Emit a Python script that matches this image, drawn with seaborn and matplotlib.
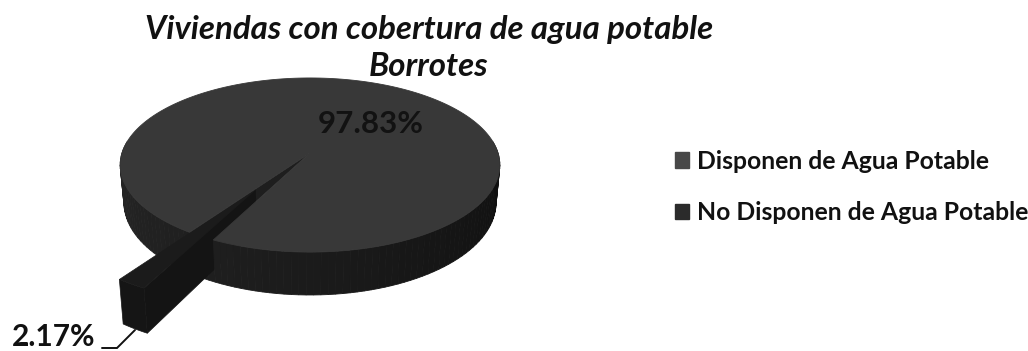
import numpy as np
import matplotlib
matplotlib.use("Agg")
import matplotlib.pyplot as plt
from matplotlib.patches import Patch, Polygon
import seaborn as sns

title_lines = ["Viviendas con cobertura de agua potable", "Borrotes"]
categories = ["Disponen de Agua Potable", "No Disponen de Agua Potable"]
shares = [97.83, 2.17]
share_labels = ["97.83%", "2.17%"]

sns.set_theme(style="white")
plt.rcParams["font.family"] = ["Lato", "DejaVu Sans"]

TOP_COLOR = "#383838"
LEGEND_COLORS = ["#484848", "#2b2b2b"]
WEDGE_TOP = "#1b1b1b"
WALL_COLOR = "#141414"

# Tilted-disc projection, working in pixel-sized axis units
CX, CY, RX, RY, PERSP, DEPTH = 310.0, 153.0, 188.0, 85.4, 0.138, 37.0
MID_ANGLE = 239.3
EXPLODE = 0.49
EXPLODE_ANGLE = 236.0


def project(u, v, depth=0.0):
    w = 1 + PERSP * v
    taper = 1 - 0.02 * (depth > 0)
    return CX + taper * RX * u / w, CY - RY * v / w + depth / w


def rim(angle_deg, offset=(0.0, 0.0), depth=0.0):
    a = np.radians(angle_deg)
    return project(np.cos(a) + offset[0], np.sin(a) + offset[1], depth)


def side_shade(angle_deg):
    # Wall brightness falls from the left of the disc to the right
    t = np.clip((angle_deg - 180) / 180, 0, 1)
    g = 0.15 - 0.09 * t
    return (g, g, g)


def wall_strips(lo, hi, z):
    edges = np.linspace(lo, hi, int((hi - lo) / 2) + 2)
    for a0, a1 in zip(edges[:-1], edges[1:]):
        quad = [rim(a0), rim(a1), rim(a1, depth=DEPTH), rim(a0, depth=DEPTH)]
        c = side_shade((a0 + a1) / 2)
        ax.add_patch(Polygon(quad, closed=True, fc=c, ec=c, lw=0.6, zorder=z))


half_span = 360 * shares[1] / sum(shares) / 2
notch_lo, notch_hi = MID_ANGLE - half_span, MID_ANGLE + half_span

fig, ax = plt.subplots(figsize=(10.28, 3.51), dpi=100)
fig.subplots_adjust(0, 0, 1, 1)
ax.set_xlim(0, 1028)
ax.set_ylim(351, 0)
ax.axis("off")

# Outer wall running behind the pulled-out slice
wall_strips(172.0, notch_hi, 2)

# Inner wall seen through the gap
apex = project(0, 0)
ax.add_patch(Polygon([apex, rim(notch_lo), rim(notch_hi)],
                     closed=True, fc="#1e1e1e", ec="#1e1e1e", lw=0.5, zorder=3))

# Pulled-out slice: walls first, then its top face
m = np.radians(EXPLODE_ANGLE)
off = (EXPLODE * np.cos(m), EXPLODE * np.sin(m))
tip = project(off[0], off[1])
tip_low = project(off[0], off[1], DEPTH)
arc = np.linspace(notch_lo, notch_hi, 8)
ax.add_patch(Polygon([tip, rim(notch_hi, off), rim(notch_hi, off, DEPTH), tip_low],
                     closed=True, fc=WALL_COLOR, ec=WALL_COLOR, lw=0.5, zorder=4))
ax.add_patch(Polygon([rim(a, off) for a in arc] + [rim(a, off, DEPTH) for a in arc[::-1]],
                     closed=True, fc="#151515", ec="#151515", lw=0.5, zorder=4))
ax.add_patch(Polygon([tip] + [rim(a, off) for a in arc],
                     closed=True, fc=WEDGE_TOP, ec=WEDGE_TOP, lw=0.5, zorder=5))

# Outer wall right of the gap, then the top face of the large slice
wall_strips(notch_hi, 368.0, 6)
sweep = np.linspace(notch_hi, notch_lo + 360, 240)
top_face = [apex] + [rim(a) for a in sweep]
ax.add_patch(Polygon(top_face, closed=True, fc=TOP_COLOR, ec=TOP_COLOR,
                     lw=0.6, zorder=7))

# Value labels and the leader line for the small slice
ax.text(371, 124, share_labels[0], ha="center", va="center", fontsize=22.5,
        color="#121212", fontweight="bold", zorder=9)
ax.text(54, 337, share_labels[1], ha="center", va="center", fontsize=21.5,
        color="#111111", fontweight="bold", zorder=9)
ax.plot([102, 117, 135], [348, 348, 330], color="#111111", lw=1.4, zorder=8,
        solid_joinstyle="miter", clip_on=False)

# Title
ax.text(429, 30, title_lines[0], ha="center", va="center", fontsize=23.8,
        fontweight="bold", fontstyle="italic", color="#111111")
ax.text(429, 66, title_lines[1], ha="center", va="center", fontsize=23.8,
        fontweight="bold", fontstyle="italic", color="#111111")

# Legend
handles = [Patch(fc=c, ec=c, label=n) for c, n in zip(LEGEND_COLORS, categories)]
ax.legend(handles=handles, loc="center left", bbox_to_anchor=(653 / 1028, 1 - 187 / 351),
          frameon=False, labelcolor="#111111", handlelength=0.57,
          handleheight=0.57, handletextpad=0.32, labelspacing=1.16,
          prop={"family": "Lato", "weight": "bold", "size": 17.8})

fig.savefig("out.png", dpi=100)
